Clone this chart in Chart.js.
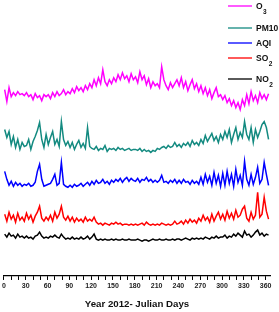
<!DOCTYPE html>
<html>
<head>
<meta charset="utf-8">
<script src="https://cdn.jsdelivr.net/npm/chart.js@4.4.1/dist/chart.umd.min.js"></script>
<style>
  html, body { margin: 0; padding: 0; background: #fff; }
  #wrap { width: 279px; height: 312px; }
</style>
</head>
<body>
<div id="wrap"><canvas id="airChart" width="279" height="312"></canvas></div>
<script>
// Julian days sampled every 3 days
const days = Array.from({ length: 122 }, (_, i) => 1 + i * 3);
const tickStep = 10;
const labelStep = 30;

// Series are drawn stacked on one unitless vertical scale (no y axis in the figure)
const o3 = [
  187, 175, 189, 180, 184, 181, 185, 182, 183, 181,
  184, 180, 182, 177, 183, 179, 181, 176, 182, 180,
  182, 178, 184, 180, 185, 181, 183, 187, 182, 185,
  183, 188, 184, 190, 186, 189, 185, 191, 187, 193,
  189, 197, 191, 199, 193, 207, 195, 191, 197, 193,
  199, 195, 202, 197, 204, 198, 201, 195, 203, 197,
  200, 194, 205, 197, 201, 192, 198, 189, 195, 191,
  193, 189, 210, 197, 191, 187, 194, 189, 193, 197,
  191, 199, 189, 195, 186, 192, 197, 188, 193, 185,
  191, 183, 189, 181, 187, 178, 184, 189, 180, 182,
  177, 181, 174, 178, 171, 176, 169, 174, 167, 177,
  171, 182, 173, 185, 176, 181, 174, 184, 178, 182,
  177, 183
];
const pm10 = [
  147, 139, 145, 132, 140, 129, 137, 127, 134, 130,
  131, 137, 127, 135, 140, 146, 154, 137, 129, 142,
  132, 139, 145, 132, 137, 130, 155, 137, 131, 135,
  129, 134, 127, 132, 136, 129, 133, 128, 149, 130,
  128, 127, 130, 126, 128, 127, 131, 125, 128, 127,
  128, 126, 129, 127, 128, 126, 127, 128, 126, 127,
  127, 126, 128, 125, 127, 125, 126, 124, 126, 125,
  128, 127, 129, 130, 128, 131, 129, 130, 134, 130,
  132, 129, 133, 131, 134, 130, 136, 132, 134, 131,
  137, 133, 141, 135, 139, 143, 136, 140, 134, 142,
  137, 145, 139, 147, 134, 142, 149, 137, 144, 139,
  155, 142, 137, 149, 134, 147, 139, 145, 152, 155,
  149, 137
];
const aqi = [
  105, 97, 91, 95, 90, 94, 91, 93, 90, 92,
  91, 93, 90, 91, 94, 105, 112, 97, 90, 91,
  92, 93, 97, 102, 91, 93, 114, 92, 90, 89,
  91, 89, 92, 90, 91, 93, 90, 92, 94, 91,
  95, 92, 96, 93, 94, 97, 93, 95, 92, 96,
  94, 97, 95, 98, 94, 97, 99, 95, 98, 96,
  95, 98, 94, 97, 96, 99, 95, 97, 94, 96,
  94, 96, 101, 94, 95, 93, 96, 94, 97, 93,
  96, 93, 97, 94, 95, 92, 96, 93, 95, 92,
  99, 92, 102, 94, 100, 91, 104, 93, 101, 90,
  103, 91, 105, 93, 102, 90, 107, 94, 101, 91,
  115, 97, 91, 102, 92, 99, 109, 93, 97, 114,
  102, 91
];
const so2 = [
  62, 55, 64, 57, 61, 54, 63, 56, 59, 55,
  63, 57, 61, 54, 60, 64, 70, 58, 55, 59,
  56, 61, 55, 64, 58, 62, 70, 59, 56, 60,
  55, 59, 54, 58, 55, 57, 54, 59, 55, 57,
  55, 59, 54, 52, 53, 51, 53, 52, 51, 53,
  52, 54, 52, 53, 51, 52, 52, 51, 52, 51,
  52, 51, 52, 53, 51, 54, 52, 51, 52, 51,
  52, 51, 53, 52, 51, 52, 51, 52, 55, 52,
  53, 55, 52, 56, 53, 57, 54, 56, 53, 58,
  55, 61, 56, 59, 54, 62, 55, 60, 64, 57,
  62, 56, 65, 58, 63, 57, 66, 59, 61, 67,
  70, 58, 55, 64, 57, 61, 84, 59, 62, 79,
  65, 57
];
const no2 = [
  42, 39, 43, 40, 41, 38, 42, 39, 40, 38,
  40, 38, 39, 37, 40, 41, 44, 40, 38, 39,
  38, 40, 39, 41, 39, 38, 42, 39, 37, 38,
  37, 39, 37, 38, 37, 39, 37, 38, 40, 37,
  39, 42, 37, 36, 37, 36, 37, 36, 36, 37,
  36, 37, 36, 36, 37, 36, 36, 37, 36, 36,
  36, 37, 36, 35, 36, 36, 35, 36, 37, 36,
  36, 37, 36, 36, 37, 36, 36, 37, 36, 37,
  37, 36, 37, 38, 37, 36, 38, 37, 38, 37,
  38, 37, 39, 38, 37, 39, 38, 40, 38, 39,
  39, 41, 38, 40, 39, 42, 40, 43, 41, 39,
  45, 41, 42, 39, 41, 44, 46, 41, 43, 40,
  42, 41
];

const seriesNames = ['O', 'PM10', 'AQI', 'SO', 'NO'];
const seriesSubs = ['3', '', '', '2', '2'];
const seriesData = [o3, pm10, aqi, so2, no2];
const seriesColors = ['#ff00ff', '#138a80', '#0000ff', '#ff0000', '#000000'];

// Legend drawn in the top right corner, lines with subscripted labels
const sideLegend = {
    id: 'sideLegend',
    afterDraw(chart, args, opts) {
        const ctx = chart.ctx;
        ctx.save();
        chart.data.datasets.forEach((ds, i) => {
            const y = opts.rows[i];
            ctx.strokeStyle = ds.borderColor;
            ctx.lineWidth = 1.3;
            ctx.beginPath();
            ctx.moveTo(opts.x, y);
            ctx.lineTo(opts.x + opts.lineLength, y);
            ctx.stroke();

            ctx.fillStyle = '#111';
            ctx.textBaseline = 'middle';
            ctx.font = 'bold 8.5px "Liberation Sans", Arial, sans-serif';
            const tx = opts.x + opts.lineLength + 4;
            ctx.fillText(ds.label, tx, y + 1);
            const sub = seriesSubs[i];
            if (sub) {
                const w = ctx.measureText(ds.label).width;
                ctx.font = 'bold 6.5px "Liberation Sans", Arial, sans-serif';
                ctx.fillText(sub, tx + w + 0.5, y + 6);
            }
        });
        ctx.restore();
    }
};

const ctx = document.getElementById('airChart').getContext('2d');

new Chart(ctx, {
    type: 'line',
    data: {
        labels: days,
        datasets: seriesNames.map((name, i) => ({
            label: name,
            data: seriesData[i].map((v, j) => ({ x: days[j], y: v })),
            borderColor: seriesColors[i],
            backgroundColor: seriesColors[i],
            borderWidth: 1.5,
            pointRadius: 0,
            tension: 0
        }))
    },
    options: {
        responsive: false,
        animation: false,
        layout: {
            padding: { left: 2, right: 9, top: 0, bottom: 0 }
        },
        plugins: {
            legend: { display: false },
            tooltip: { enabled: false },
            sideLegend: {
                x: 228,
                lineLength: 24,
                rows: [6, 28, 43, 58, 79]
            }
        },
        scales: {
            x: {
                type: 'linear',
                min: 0,
                max: 366,
                grid: {
                    display: true,
                    drawOnChartArea: false,
                    drawTicks: true,
                    tickLength: 4,
                    color: '#000'
                },
                border: { display: true, color: '#000', width: 1.2 },
                ticks: {
                    stepSize: tickStep,
                    includeBounds: false,
                    autoSkip: false,
                    maxRotation: 0,
                    padding: 2,
                    color: '#222',
                    font: { family: '"Liberation Sans", Arial, sans-serif', size: 7, weight: 'bold' },
                    callback: v => (v % labelStep === 0 ? v : '')
                },
                title: {
                    display: true,
                    text: 'Year 2012- Julian Days',
                    color: '#111',
                    padding: { top: 6, bottom: 2 },
                    font: { family: '"Liberation Sans", Arial, sans-serif', size: 9.7, weight: 'bold' }
                }
            },
            y: {
                display: false,
                min: 0,
                max: 277
            }
        }
    },
    plugins: [sideLegend]
});
</script>
</body>
</html>
